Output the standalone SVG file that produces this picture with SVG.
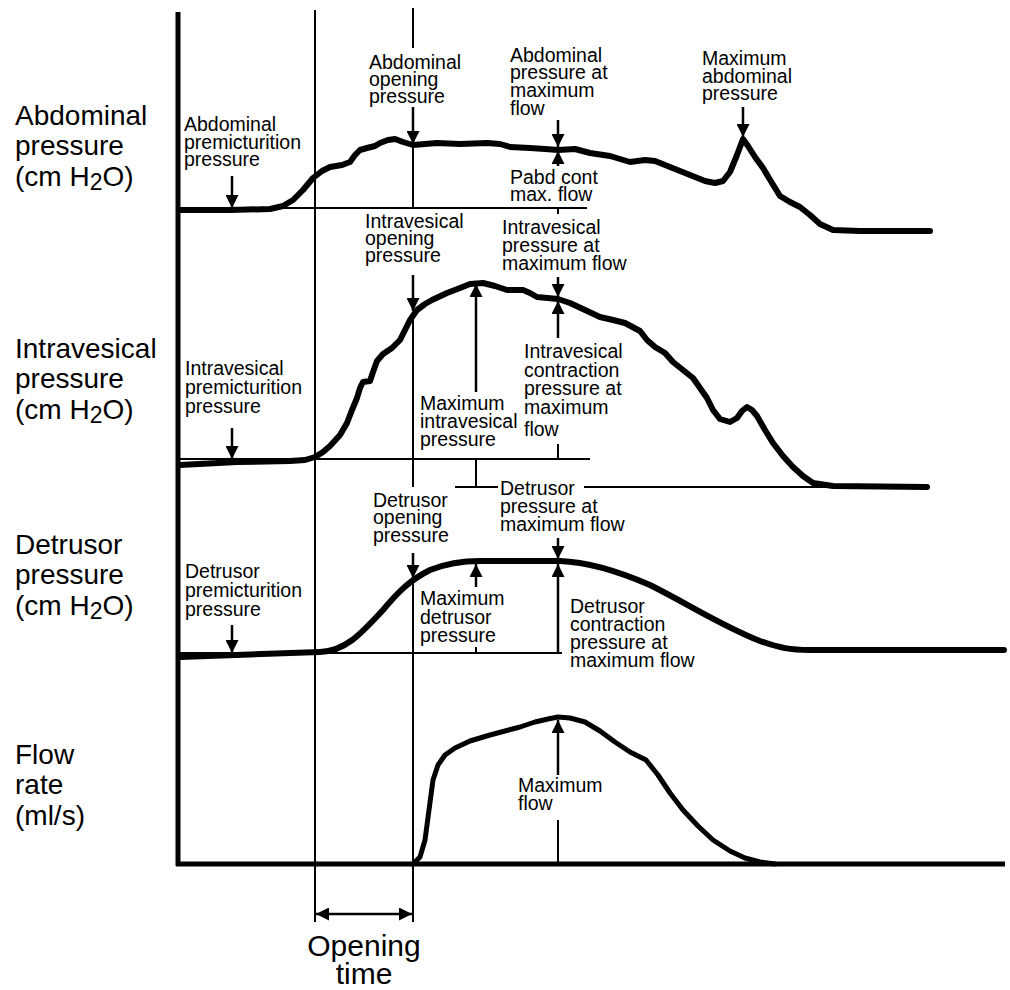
<svg xmlns="http://www.w3.org/2000/svg" width="1010" height="990" viewBox="0 0 1010 990">
<defs>
<style>
.curve{fill:none;stroke:#000;stroke-width:6;stroke-linejoin:round;stroke-linecap:round}
.axis{fill:none;stroke:#000;stroke-width:5}
.thin{fill:none;stroke:#000;stroke-width:2}
.arr{fill:none;stroke:#000;stroke-width:2.5}
.lbl{font-family:"Liberation Sans",Arial,Helvetica,sans-serif;font-size:19.5px;fill:#000}
.big{font-family:"Liberation Sans",Arial,Helvetica,sans-serif;font-size:28px;fill:#000}
.ot{font-family:"Liberation Sans",Arial,Helvetica,sans-serif;font-size:30px;fill:#000}
</style>
<marker id="ah" markerUnits="userSpaceOnUse" markerWidth="13" markerHeight="13" viewBox="0 0 13 13" refX="13" refY="6.5" orient="auto">
<path d="M0,0 L13,6.5 L0,13 z" fill="#000"/>
</marker>
<marker id="ahs" markerUnits="userSpaceOnUse" markerWidth="13" markerHeight="13" viewBox="0 0 13 13" refX="13" refY="6.5" orient="auto-start-reverse">
<path d="M0,0 L13,6.5 L0,13 z" fill="#000"/>
</marker>
</defs>
<rect width="1010" height="990" fill="#fff"/>

<g id="axis-labels">
<text class="big" x="15" y="125">Abdominal</text>
<text class="big" x="15" y="155">pressure</text>
<text class="big" x="15" y="186">(cm H<tspan font-size="23" dy="4">2</tspan><tspan dy="-4">O)</tspan></text>
<text class="big" x="15" y="358">Intravesical</text>
<text class="big" x="15" y="388">pressure</text>
<text class="big" x="15" y="419">(cm H<tspan font-size="23" dy="4">2</tspan><tspan dy="-4">O)</tspan></text>
<text class="big" x="15" y="554">Detrusor</text>
<text class="big" x="15" y="584">pressure</text>
<text class="big" x="15" y="615">(cm H<tspan font-size="23" dy="4">2</tspan><tspan dy="-4">O)</tspan></text>
<text class="big" x="15" y="764">Flow</text>
<text class="big" x="15" y="794">rate</text>
<text class="big" x="15" y="825">(ml/s)</text>
</g>

<g id="axes">
<line class="axis" x1="178" y1="12" x2="178" y2="866"/>
<line class="axis" x1="176" y1="864" x2="1005" y2="864"/>
</g>

<g id="reference-lines">
<line class="thin" x1="315" y1="10" x2="315" y2="922"/>
<line class="thin" x1="413" y1="8" x2="413" y2="48"/>
<line class="thin" x1="413" y1="146" x2="413" y2="208"/>
<line class="thin" x1="413" y1="313" x2="413" y2="487"/>
<line class="thin" x1="413" y1="580" x2="413" y2="922"/>
<line class="thin" x1="178" y1="208" x2="587" y2="208"/>
<line class="thin" x1="558" y1="208" x2="558" y2="214"/>
<line class="thin" x1="178" y1="459" x2="590" y2="459"/>
<line class="thin" x1="558" y1="444" x2="558" y2="459"/>
<line class="thin" x1="476" y1="459" x2="476" y2="487"/>
<line class="thin" x1="455" y1="487" x2="498" y2="487"/>
<line class="thin" x1="584" y1="487" x2="835" y2="487"/>
<line class="thin" x1="178" y1="653" x2="562" y2="653"/>
<line class="thin" x1="476" y1="647" x2="476" y2="653"/>
<line class="thin" x1="558" y1="820" x2="558" y2="864"/>
</g>

<g id="curves">
<polyline id="abdominal" class="curve" points="180,210 230,210 270,209 283,206 293,200 303,190 313,178 322,171 330,167 342,165 350,162 355,155 360,150 367,148 375,146 380,143 388,140 395,139 403,142 413,145 425,144 437,143 460,144 487,143 500,144 510,147 530,148 545,149 558,150 575,149 590,153 610,156 630,162 645,160 655,161 670,167 690,175 705,181 715,183 723,181 730,172 737,155 743,139 748,146 755,157 763,168 772,183 780,196 790,202 800,207 810,215 820,224 833,230 860,231 930,231"/>
<polyline id="intravesical" class="curve" points="180,465 237,462 290,461 305,460 315,457 323,452 330,446 340,435 347,423 352,410 357,398 360,388 363,382 370,381 373,372 377,361 383,354 392,348 400,340 405,330 410,320 417,310 425,304 432,300 447,293 460,288 470,284 483,283 495,286 507,290 523,290 530,293 537,297 558,299 570,303 585,310 600,317 613,320 625,323 640,331 647,340 655,347 665,353 673,362 683,370 693,378 700,388 707,398 713,410 720,419 730,422 737,418 742,411 747,407 752,410 757,416 765,430 773,443 783,456 793,467 803,476 813,483 833,486 927,487"/>
<path id="detrusor" class="curve" d="M180,657 C220,656 280,653 320,652 C345,651 360,635 383,610 C398,592 410,580 430,570 C450,562 470,561 480,561 L560,561 C590,562 620,572 650,585 C690,605 720,625 760,641 C780,648 790,650 810,650 L1004,650"/>
<polyline id="flow" class="curve" style="stroke-width:5" points="413,864 420,857 425,840 429,810 433,780 438,765 445,755 455,748 470,741 490,735 505,731 520,727 535,722 548,719 558,717 570,718 585,722 600,731 615,742 630,752 646,760 658,775 670,793 683,810 698,826 713,840 730,851 745,858 760,862 775,864"/>
</g>

<g id="arrows">
<line class="arr" x1="232" y1="176" x2="232" y2="208" marker-end="url(#ah)"/>
<line class="arr" x1="413" y1="107" x2="413" y2="144" marker-end="url(#ah)"/>
<line class="arr" x1="558" y1="120" x2="558" y2="147" marker-end="url(#ah)"/>
<line class="arr" x1="558" y1="166" x2="558" y2="151" marker-end="url(#ah)"/>
<line class="arr" x1="743" y1="107" x2="743" y2="137" marker-end="url(#ah)"/>
<line class="arr" x1="413" y1="275" x2="413" y2="311" marker-end="url(#ah)"/>
<line class="arr" x1="476" y1="392" x2="476" y2="284" marker-end="url(#ah)"/>
<line class="arr" x1="558" y1="277" x2="558" y2="297" marker-end="url(#ah)"/>
<line class="arr" x1="558" y1="338" x2="558" y2="301" marker-end="url(#ah)"/>
<line class="arr" x1="232" y1="428" x2="232" y2="459" marker-end="url(#ah)"/>
<line class="arr" x1="413" y1="553" x2="413" y2="578" marker-end="url(#ah)"/>
<line class="arr" x1="558" y1="538" x2="558" y2="559" marker-end="url(#ah)"/>
<line class="arr" x1="476" y1="587" x2="476" y2="564" marker-end="url(#ah)"/>
<line class="arr" x1="558" y1="653" x2="558" y2="564" marker-end="url(#ah)"/>
<line class="arr" x1="232" y1="625" x2="232" y2="653" marker-end="url(#ah)"/>
<line class="arr" x1="558" y1="775" x2="558" y2="720" marker-end="url(#ah)"/>
<line class="arr" x1="316" y1="914" x2="412" y2="914" marker-start="url(#ahs)" marker-end="url(#ah)"/>
</g>

<g id="annotations">
<text class="lbl" x="184"><tspan x="184" y="131">Abdominal</tspan><tspan x="184" y="149">premicturition</tspan><tspan x="184" y="166">pressure</tspan></text>
<text class="lbl"><tspan x="369" y="69">Abdominal</tspan><tspan x="369" y="86">opening</tspan><tspan x="369" y="103">pressure</tspan></text>
<text class="lbl"><tspan x="510" y="62">Abdominal</tspan><tspan x="510" y="79">pressure at</tspan><tspan x="510" y="97">maximum</tspan><tspan x="510" y="115">flow</tspan></text>
<text class="lbl"><tspan x="702" y="65">Maximum</tspan><tspan x="702" y="83">abdominal</tspan><tspan x="702" y="100">pressure</tspan></text>
<text class="lbl"><tspan x="510" y="184">Pabd cont</tspan><tspan x="510" y="201">max. flow</tspan></text>
<text class="lbl"><tspan x="365" y="228">Intravesical</tspan><tspan x="365" y="245">opening</tspan><tspan x="365" y="262">pressure</tspan></text>
<text class="lbl"><tspan x="502" y="234">Intravesical</tspan><tspan x="502" y="252">pressure at</tspan><tspan x="502" y="270">maximum flow</tspan></text>
<text class="lbl"><tspan x="420" y="410">Maximum</tspan><tspan x="420" y="428">intravesical</tspan><tspan x="420" y="446">pressure</tspan></text>
<text class="lbl"><tspan x="524" y="358">Intravesical</tspan><tspan x="524" y="377">contraction</tspan><tspan x="524" y="395">pressure at</tspan><tspan x="524" y="414">maximum</tspan><tspan x="524" y="436">flow</tspan></text>
<text class="lbl"><tspan x="185" y="375">Intravesical</tspan><tspan x="185" y="394">premicturition</tspan><tspan x="185" y="413">pressure</tspan></text>
<text class="lbl"><tspan x="373" y="507">Detrusor</tspan><tspan x="373" y="524">opening</tspan><tspan x="373" y="542">pressure</tspan></text>
<text class="lbl"><tspan x="500" y="495">Detrusor</tspan><tspan x="500" y="513">pressure at</tspan><tspan x="500" y="531">maximum flow</tspan></text>
<text class="lbl"><tspan x="420" y="605">Maximum</tspan><tspan x="420" y="624">detrusor</tspan><tspan x="420" y="642">pressure</tspan></text>
<text class="lbl"><tspan x="570" y="613">Detrusor</tspan><tspan x="570" y="631">contraction</tspan><tspan x="570" y="649">pressure at</tspan><tspan x="570" y="667">maximum flow</tspan></text>
<text class="lbl"><tspan x="185" y="578">Detrusor</tspan><tspan x="185" y="597">premicturition</tspan><tspan x="185" y="616">pressure</tspan></text>
<text class="lbl"><tspan x="518" y="792">Maximum</tspan><tspan x="518" y="810">flow</tspan></text>
<text class="ot" x="364" y="956" text-anchor="middle">Opening</text>
<text class="ot" x="364" y="984" text-anchor="middle">time</text>
</g>
</svg>
